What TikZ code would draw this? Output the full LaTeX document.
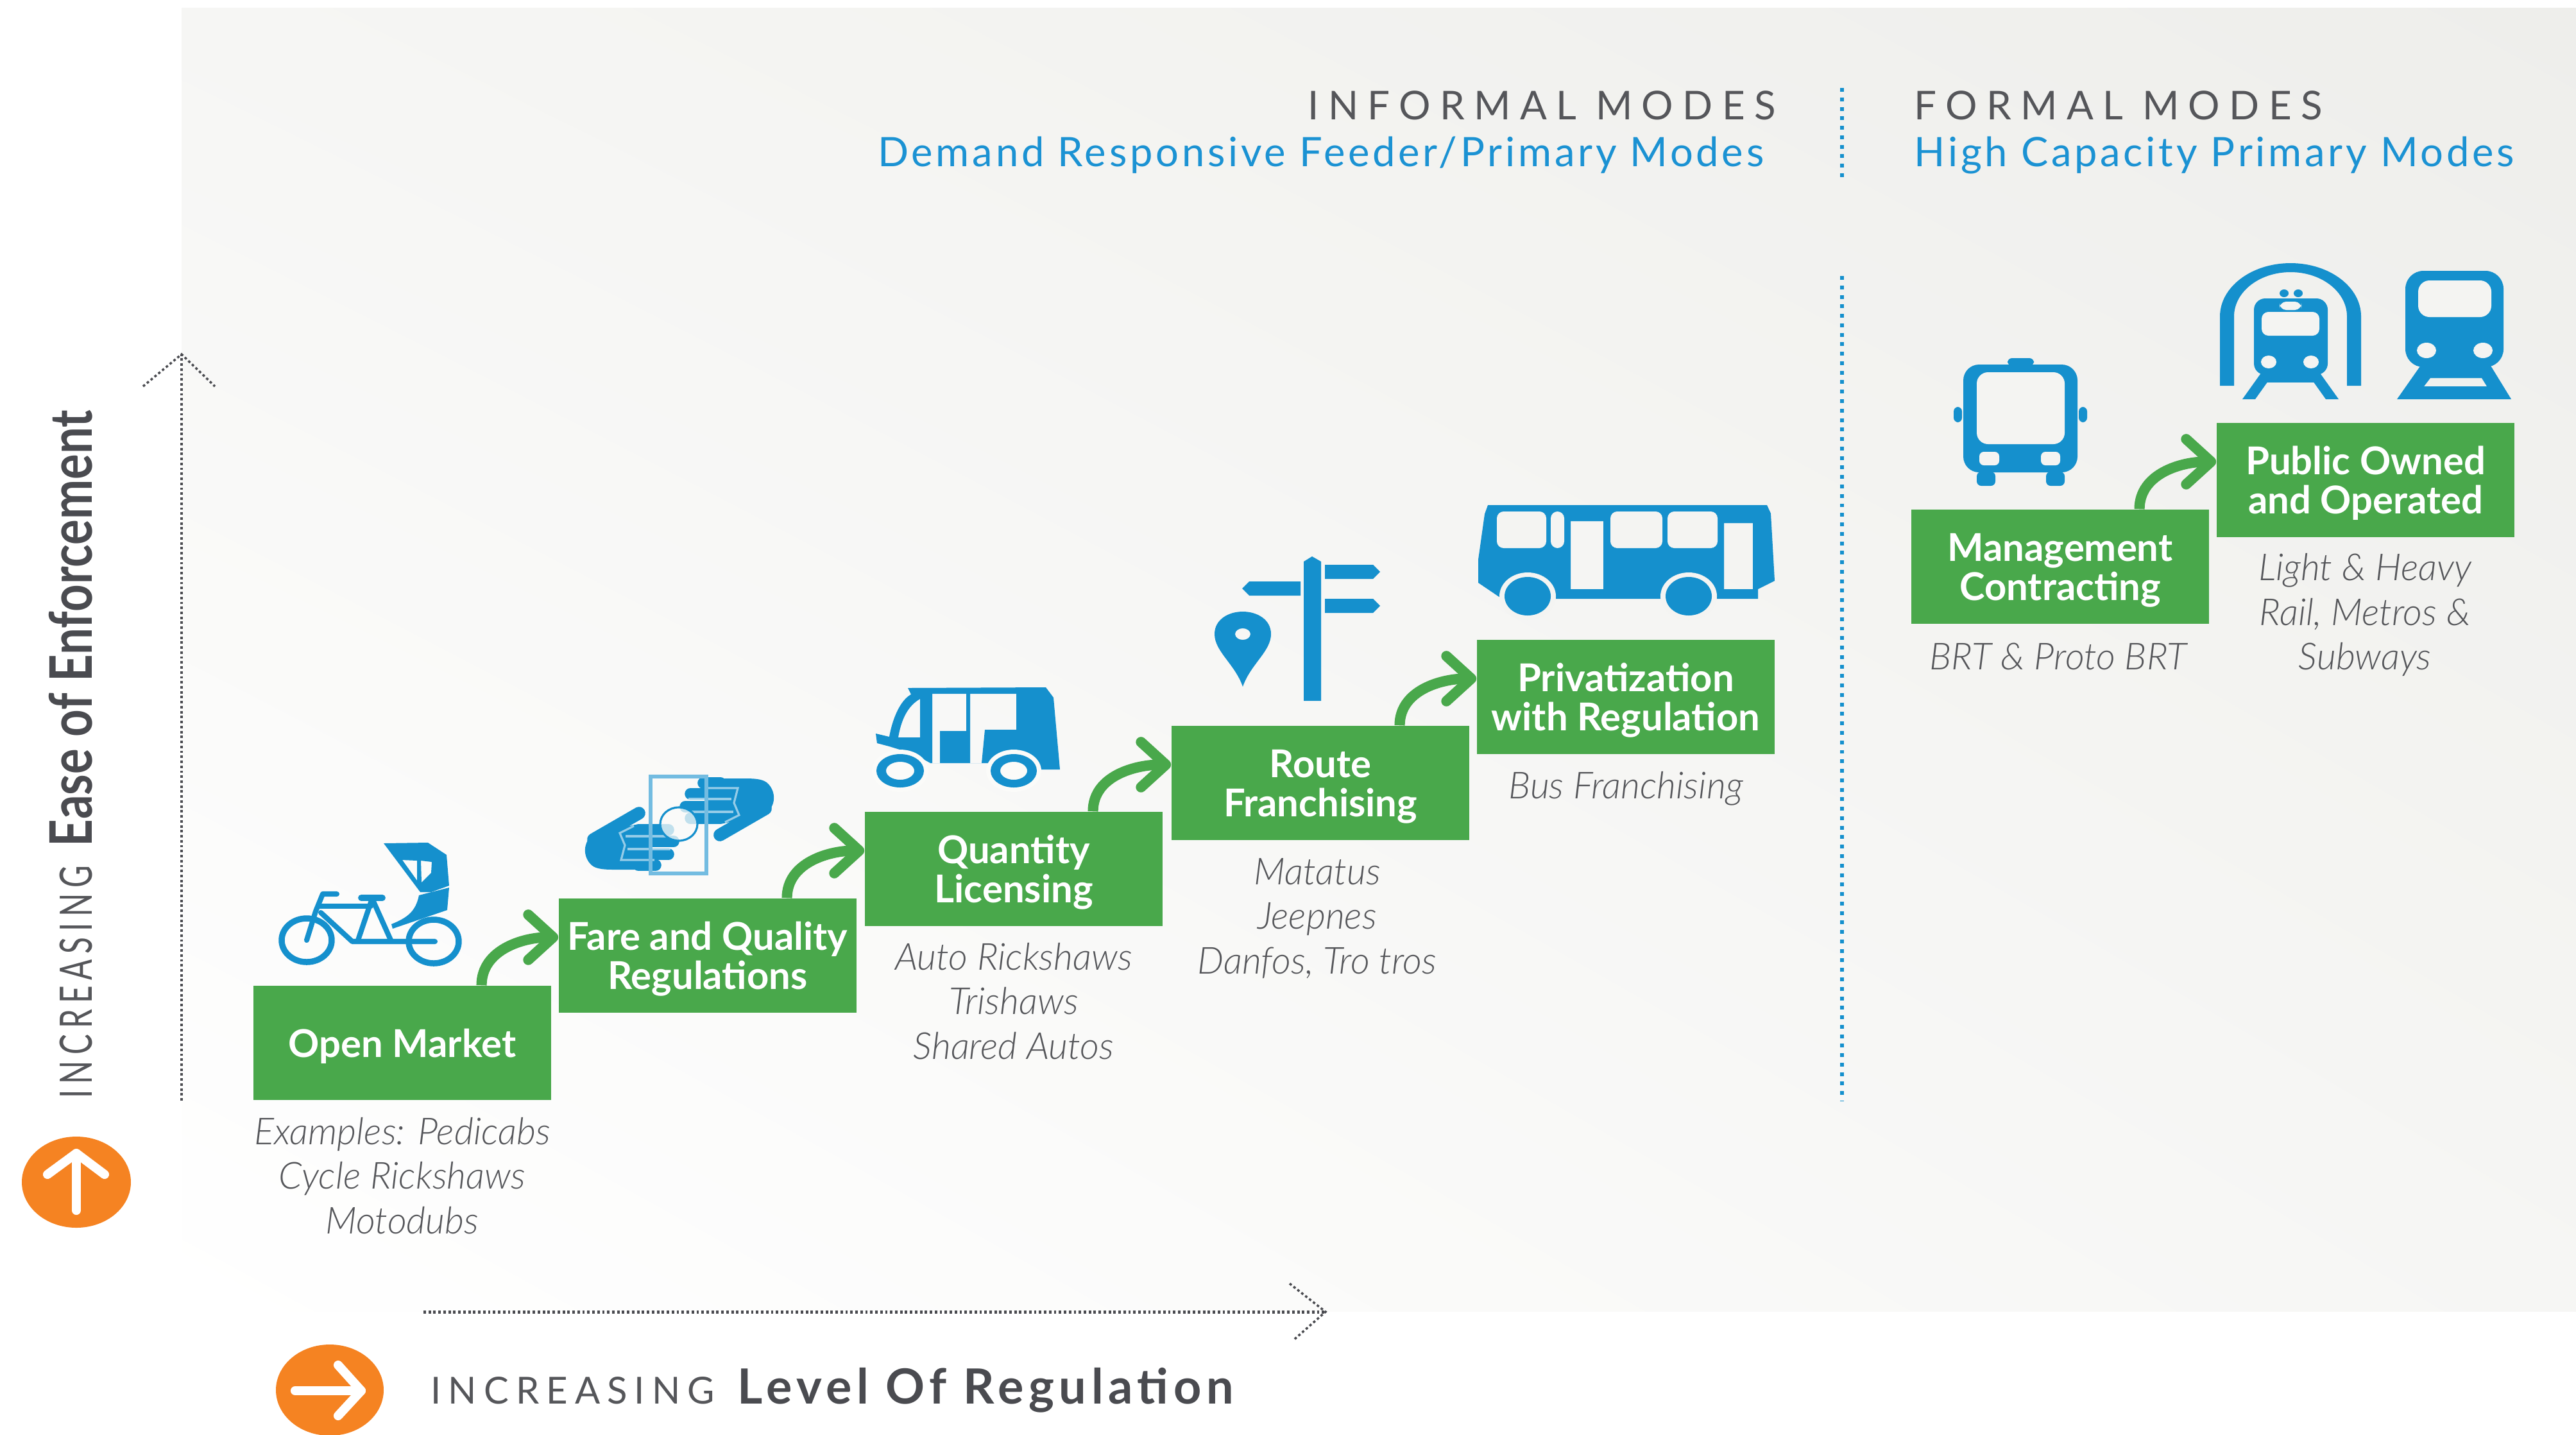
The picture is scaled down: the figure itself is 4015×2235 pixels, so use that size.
\documentclass[tikz,border=0pt]{standalone}
\usepackage{fontspec}
\setmainfont{Lato}
\newfontfamily\lightfont{Lato Light}
\newfontfamily\spacedfont[LetterSpace=23]{Lato}
\newfontfamily\blueheadfont[LetterSpace=7.5]{Lato}
\newfontfamily\incfont[LetterSpace=19]{Lato}
\newfontfamily\levelfont[LetterSpace=10]{Lato}
\usetikzlibrary{arrows.meta,shadings}
\definecolor{stepgreen}{HTML}{49A84B}
\definecolor{iconblue}{HTML}{1590CD}
\definecolor{headblue}{HTML}{1B92D3}
\definecolor{inkgrey}{HTML}{55565A}
\definecolor{axisgrey}{HTML}{4A4B50}
\definecolor{circleorange}{HTML}{F58322}
\definecolor{bgtop}{HTML}{EEEEEB}
\definecolor{bgmid}{HTML}{F6F6F4}
\definecolor{gaplow}{HTML}{FBFBF9}
\definecolor{gaphigh}{HTML}{F4F4F2}
\tikzset{
  stepbox/.style={fill=stepgreen, text=white, align=center, inner sep=0pt,
    minimum width=4.64cm, minimum height=1.78cm,
    font=\bfseries\fontsize{17pt}{17.4pt}\selectfont},
  modetext/.style={text=inkgrey, align=center, inner sep=0pt,
    font=\lightfont\itshape\fontsize{16.5pt}{19.7pt}\selectfont},
  stepcurve/.style={out=90, in=180, looseness=1},
  steparrow/.style={draw=stepgreen, line width=4.6pt,
    -{Straight Barb[round,length=11pt,width=20pt]}},
  bluedots/.style={draw=iconblue, line width=1.7pt, dash pattern=on 1.7pt off 2.5pt},
  greydots/.style={draw=axisgrey, line width=1.4pt, dash pattern=on 1.1pt off 1.1pt},
  chevron/.style={draw=axisgrey, line width=1pt, dash pattern=on 1.1pt off 1.1pt},
  iconfill/.style={fill=iconblue},
  iconline/.style={draw=iconblue, line cap=round, line join=round},
  whitearrow/.style={draw=white, line width=4pt, line cap=round, line join=round}
}
\newcommand{\boxstrut}{\rule{0pt}{15.4pt}}
\newcommand{\payhand}{
  \draw[iconline, line width=5.6pt] (996,1267) -- (925,1308);
  \fill[iconfill] (990,1285) -- (925,1300) .. controls (908,1312) and (908,1335) .. (922,1348) .. controls (930,1355) and (945,1355) .. (960,1355) -- (1020,1355) -- (1010,1285) -- cycle;
  \draw[iconline, line width=5pt] (995,1293) -- (1042,1293);
  \draw[iconline, line width=5pt] (995,1311) -- (1050,1311);
  \draw[iconline, line width=5pt] (995,1331) -- (1042,1331);
  \draw[iconline, line width=5pt] (995,1348) -- (1022,1348);
  \draw[draw=white, opacity=.55, line width=.9pt] (988,1287) -- (966,1298) -- (974,1317) -- (968,1340) -- (1020,1340);
  \draw[draw=white, opacity=.55, line width=.9pt] (975,1303) -- (1040,1303);
  \draw[draw=white, opacity=.55, line width=.9pt] (978,1323) -- (1045,1323);
}
\begin{document}
\begin{tikzpicture}[x=0.01cm, y=-0.01cm]
  \useasboundingbox (0,0) rectangle (4015,2235);
  \shade[lower left=white, upper right=bgtop, upper left=bgmid, lower right=bgmid] (283,12) rectangle (4015,2043);

  \node[text=inkgrey, anchor=base east, inner sep=0pt, font=\spacedfont\fontsize{17.6pt}{20pt}\selectfont] (headinformal) at (2768,186) {INFORMAL MODES};
  \node[text=headblue, anchor=base east, inner sep=0pt, font=\blueheadfont\fontsize{18pt}{20pt}\selectfont] (subinformal) at (2750,259) {Demand Responsive Feeder/Primary Modes};
  \node[text=inkgrey, anchor=base west, inner sep=0pt, font=\spacedfont\fontsize{17.6pt}{20pt}\selectfont] (headformal) at (2983,186) {FORMAL MODES};
  \node[text=headblue, anchor=base west, inner sep=0pt, font=\blueheadfont\fontsize{18pt}{20pt}\selectfont] (subformal) at (2983,259) {High Capacity Primary Modes};

  \coordinate (topdotsa) at (2871,137);
  \coordinate (topdotsb) at (2871,278);
  \coordinate (lowdotsa) at (2871,430);
  \coordinate (lowdotsb) at (2871,1715);
  \draw[bluedots] (topdotsa) -- (topdotsb);
  \draw[bluedots] (lowdotsa) -- (lowdotsb);

  \coordinate (yaxisfoot) at (283,1715);
  \coordinate (yaxistip) at (283,552);
  \coordinate (xaxisfoot) at (660,2044);
  \coordinate (xaxistip) at (2066,2044);
  \draw[greydots] (yaxisfoot) -- (yaxistip);
  \draw[greydots] (xaxisfoot) -- (xaxistip);
  \draw[chevron] (223,602) -- (yaxistip) -- (335,602);
  \draw[chevron] (2010,2000) -- (xaxistip) -- (2015,2089);

  \node[stepbox] (openmarket) at (627,1625) {\boxstrut Open Market};
  \node[stepbox] (farequality) at (1103,1489) {\boxstrut Fare and Quality\\Regulations};
  \node[stepbox] (quantity) at (1580,1354) {\boxstrut Quantity\\Licensing};
  \node[stepbox] (route) at (2058,1220) {\boxstrut Route\\Franchising};
  \node[stepbox] (privatization) at (2534,1086) {\boxstrut Privatization\\with Regulation};
  \node[stepbox] (management) at (3211,883) {\boxstrut Management\\Contracting};
  \node[stepbox] (publicowned) at (3687,748) {\boxstrut Public Owned\\and Operated};

  \draw[steparrow] (openmarket.36) to[stepcurve] (farequality.173);
  \draw[steparrow] (farequality.36) to[stepcurve] (quantity.173);
  \draw[steparrow] (quantity.36) to[stepcurve] (route.173);
  \draw[steparrow] (route.36) to[stepcurve] (privatization.173);
  \draw[steparrow] (management.36) to[stepcurve] (publicowned.173);

  \node[modetext] (openexamples) at (627,1832) {Examples: Pedicabs\\Cycle Rickshaws\\Motodubs};
  \node[modetext] (quantityexamples) at (1580,1560) {Auto Rickshaws\\Trishaws\\Shared Autos};
  \node[modetext] (routeexamples) at (2053,1431) {Matatus\\Jeepnes\\Danfos, Tro tros};
  \node[modetext] (privexamples) at (2534,1229) {Bus Franchising};
  \node[modetext] (mgmtexamples) at (3208,1023) {BRT \& Proto BRT};
  \node[modetext] (publicexamples) at (3686,958) {Light \& Heavy\\Rail, Metros \&\\Subways};

  \node[rotate=90, anchor=base west, inner sep=0pt, text=inkgrey, font=\incfont\fontsize{16.5pt}{18pt}\selectfont] (yincreasing) at (143,1712) {\scalebox{.82}[1.2]{INCREASING}};
  \node[rotate=90, anchor=base west, inner sep=0pt, text=axisgrey, font=\bfseries\fontsize{20.8pt}{24pt}\selectfont] (yease) at (143,1320) {\scalebox{1.015}[1.25]{Ease of Enforcement}};
  \node[anchor=base west, inner sep=0pt, text=inkgrey, font=\incfont\fontsize{16.5pt}{18pt}\selectfont] (xincreasing) at (671,2187) {INCREASING};
  \node[anchor=base west, inner sep=0pt, text=axisgrey, font=\levelfont\bfseries\fontsize{21.5pt}{24pt}\selectfont] (xlevel) at (1149,2187) {Level Of Regulation};

  \fill[circleorange] (119,1842) ellipse[x radius=85, y radius=71];
  \draw[whitearrow] (119,1886) -- (119,1797);
  \draw[whitearrow] (74,1830) -- (119,1797) -- (163,1830);
  \fill[circleorange] (514,2166) ellipse[x radius=84, y radius=71];
  \draw[whitearrow] (460,2167) -- (563,2167);
  \draw[whitearrow] (527,2127) -- (563,2167) -- (527,2206);

  % pedicab
  \draw[iconline, line width=2.7pt] (478,1465) ellipse[x radius=39, y radius=34];
  \draw[iconline, line width=2.7pt] (676,1467) ellipse[x radius=39, y radius=34];
  \draw[iconline, line width=2.3pt] (525,1393) -- (503,1393) -- (492,1420) -- (478,1465);
  \draw[iconline, line width=2.3pt] (498,1412) -- (578,1412);
  \draw[iconline, line width=2.3pt] (500,1422) -- (549,1467) -- (678,1467);
  \draw[iconline, line width=2.3pt] (558,1465) -- (580,1400) -- (610,1467);
  \draw[iconline, line width=2.8pt] (563,1399) -- (596,1399);
  \fill[iconfill, even odd rule] (598,1314) -- (667,1313) -- (696,1332) -- (700,1380) -- (672,1390) -- (655,1390) -- cycle
    (627,1340) -- (650,1341) -- (650,1372) -- cycle (656,1341) -- (673,1343) -- (672,1360) -- (657,1375) -- cycle;
  \fill[iconfill] (653,1395) -- (700,1383) -- (697,1418) -- (612,1447) -- (610,1440) .. controls (635,1430) and (648,1420) .. cycle;

  % note and coin
  \payhand
  \begin{scope}[rotate around={180:(1059,1284)}]
    \payhand
  \end{scope}
  \draw[draw=iconblue!60, line width=1.6pt] (1014,1210) rectangle (1101,1361);
  \draw[draw=iconblue, fill=gaplow, line width=.9pt, fill opacity=.75] (1058,1284) ellipse[x radius=29, y radius=26];

  % auto rickshaw
  \fill[iconfill, even odd rule] (1415,1072) -- (1630,1071) -- (1642,1087) -- (1652,1199) -- (1600,1199) -- (1580,1189) -- (1450,1189) -- (1425,1175) -- (1386,1163) -- (1367,1158) -- (1365,1143) -- (1386,1148) .. controls (1392,1115) and (1405,1090) .. (1420,1082) -- cycle
    (1434,1089) -- (1434,1149) -- (1400,1149) .. controls (1405,1120) and (1415,1100) .. cycle
    (1453,1081) -- (1506,1081) -- (1506,1139) -- (1465,1139) -- (1465,1189) -- (1453,1189) -- cycle
    (1512,1081) -- (1584,1081) -- (1584,1137) -- (1535,1137) -- (1530,1189) -- (1512,1189) -- cycle;
  \fill[gaplow] (1403,1201) ellipse[x radius=44, y radius=33];
  \fill[gaplow] (1580,1201) ellipse[x radius=43, y radius=33];
  \fill[iconfill, even odd rule] (1403,1201) ellipse[x radius=37, y radius=26] (1403,1201) ellipse[x radius=22, y radius=14];
  \fill[iconfill, even odd rule] (1580,1201) ellipse[x radius=36, y radius=26] (1580,1201) ellipse[x radius=21, y radius=14];

  % sign post and pin
  \fill[iconfill] (2032,1092) -- (2032,875) -- (2045,867) -- (2059,875) -- (2059,1092) -- cycle;
  \fill[iconfill] (2065,880) -- (2140,880) -- (2151,891) -- (2140,902) -- (2065,902) -- cycle;
  \fill[iconfill] (2065,933) -- (2140,933) -- (2151,944) -- (2140,955) -- (2065,955) -- cycle;
  \fill[iconfill] (2027,906) -- (1947,906) -- (1936,917) -- (1947,928) -- (2027,928) -- cycle;
  \fill[iconfill, even odd rule] (1937,1070) .. controls (1925,1035) and (1893,1015) .. (1893,988) .. controls (1893,965) and (1915,953) .. (1937,953) .. controls (1959,953) and (1981,965) .. (1981,988) .. controls (1981,1015) and (1949,1035) .. cycle
    (1937,988) ellipse[x radius=12, y radius=9];

  % bus
  \fill[iconfill, even odd rule] (2319,787) -- (2754,787) -- (2760,800) -- (2766,905) -- (2740,918) -- (2740,933) -- (2338,933) -- (2338,931) -- (2304,908) -- (2304,872) -- (2314,801) -- cycle
    (2448,812) rectangle (2499,918) (2687,815) rectangle (2732,918);
  \foreach \xa/\xb in {2333/2410, 2417/2438, 2510/2591, 2599/2677}{
    \fill[gaphigh, rounded corners=3pt] (\xa,797) rectangle (\xb,854);
  }
  \fill[gaphigh] (2381,929) ellipse[x radius=44, y radius=37];
  \fill[gaphigh] (2632,929) ellipse[x radius=44, y radius=37];
  \fill[iconfill] (2381,929) ellipse[x radius=36, y radius=30];
  \fill[iconfill] (2632,929) ellipse[x radius=36, y radius=30];

  % front bus
  \fill[iconfill, rounded corners=2pt] (3129,570) rectangle (3170,558);
  \fill[iconfill, rounded corners=2pt] (3045,634) rectangle (3058,658);
  \fill[iconfill, rounded corners=2pt] (3240,634) rectangle (3253,658);
  \fill[iconfill, rounded corners=2pt] (3081,735) rectangle (3110,757);
  \fill[iconfill, rounded corners=2pt] (3189,735) rectangle (3218,757);
  \fill[iconfill, rounded corners=7pt] (3060,568) rectangle (3238,736);
  \fill[gaphigh, rounded corners=5pt] (3081,580) rectangle (3218,692);
  \fill[gaphigh, rounded corners=2pt] (3085,704) rectangle (3116,725);
  \fill[gaphigh, rounded corners=2pt] (3181,704) rectangle (3211,725);

  % metro in tunnel
  \fill[iconfill] (3460,601) -- (3460,493) arc[start angle=180, end angle=360, x radius=110, y radius=83] -- (3680,601) -- (3658,601) -- (3658,493) arc[start angle=360, end angle=180, x radius=88, y radius=69] -- (3482,601) -- cycle;
  \fill[iconfill] (3560,457) ellipse[x radius=7, y radius=6];
  \fill[iconfill] (3582,457) ellipse[x radius=7, y radius=6];
  \fill[iconfill, rounded corners=5pt] (3513,465) rectangle (3628,584);
  \fill[gaphigh, rounded corners=3pt] (3525,486) rectangle (3615,523);
  \fill[gaphigh, rounded corners=3pt] (3553,470) rectangle (3587,483);
  \fill[gaphigh] (3536,564) ellipse[x radius=12, y radius=10];
  \fill[gaphigh] (3602,564) ellipse[x radius=12, y radius=10];
  \fill[iconfill] (3525,580) -- (3545,580) -- (3515,622) -- (3495,622) -- cycle;
  \fill[iconfill] (3595,580) -- (3615,580) -- (3645,622) -- (3625,622) -- cycle;
  \fill[iconfill] (3530,584) rectangle (3610,596);

  % train
  \fill[iconfill, rounded corners=8pt] (3749,422) rectangle (3902,572);
  \fill[gaphigh, rounded corners=5pt] (3769,437) rectangle (3883,494);
  \fill[gaphigh] (3782,546) ellipse[x radius=15, y radius=12];
  \fill[gaphigh] (3870,546) ellipse[x radius=15, y radius=12];
  \fill[iconfill, even odd rule] (3776,565) -- (3736,622) -- (3914,622) -- (3879,565) -- cycle
    (3788,589) -- (3868,589) -- (3876,602) -- (3778,602) -- cycle;
\end{tikzpicture}
\end{document}
